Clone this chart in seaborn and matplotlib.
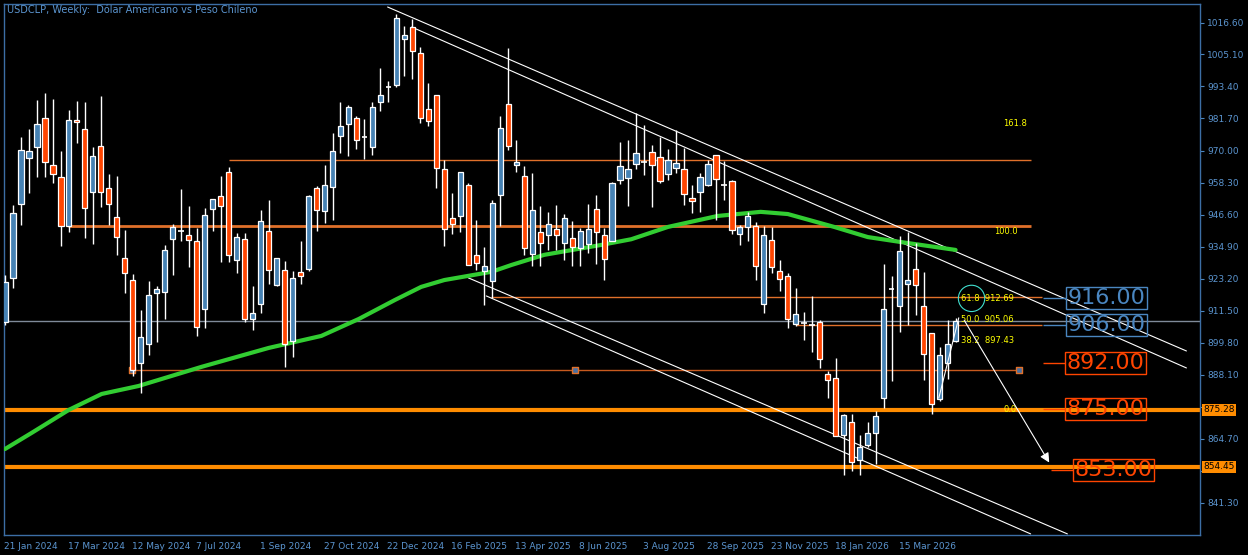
import numpy as np
import pandas as pd
import matplotlib
matplotlib.use("Agg")
import matplotlib.pyplot as plt
import seaborn as sns
from matplotlib.patches import Ellipse

opens = [907.4,923.5,950.5,967.3,971.3,981.9,964.7,960.4,942.5,981.2,977.9,954.9,971.7,956.3,945.8,930.8,922.7,892.4,899.4,918.0,
         918.4,937.7,941.4,939.2,937.0,912.2,948.7,953.4,962.2,930.0,937.7,908.5,914.0,940.6,920.9,926.4,900.5,925.7,926.8,956.3,
         947.9,956.7,975.3,979.7,981.9,975.0,971.3,987.7,992.5,994.0,1010.8,1015.1,1005.6,985.2,990.3,963.3,945.4,946.1,957.4,931.9,
         926.0,922.4,953.8,987.0,964.7,960.7,932.2,940.3,939.2,941.4,936.3,938.1,934.4,935.9,948.7,939.2,937.0,959.3,960.0,965.1,
         965.8,969.5,967.7,961.5,963.6,963.3,952.7,954.9,957.4,968.4,956.7,958.9,939.5,942.1,942.5,914.0,937.4,926.0,924.2,906.7,
         907.8,906.3,907.4,888.4,887.0,866.1,870.9,857.0,862.5,866.9,879.7,919.8,913.2,921.3,926.8,913.2,903.4,879.3,892.4,900.5]
closes = [922.0,947.2,970.2,969.9,979.7,965.8,961.5,942.5,981.2,980.4,949.0,968.0,954.9,950.5,938.4,925.3,889.9,901.9,917.3,919.5,
          933.7,942.1,940.6,937.4,905.6,946.5,952.3,949.8,931.9,938.4,908.5,910.7,944.3,926.4,930.8,899.4,923.5,924.2,953.4,948.3,
          957.4,969.9,979.0,985.9,973.9,975.0,985.9,990.3,993.2,1018.4,1012.2,1006.4,981.9,980.8,963.6,941.4,943.2,962.2,928.2,929.0,
          927.9,950.9,978.3,971.7,965.8,934.4,948.3,936.3,943.2,939.2,945.4,934.8,940.6,941.4,940.3,930.4,958.2,964.4,963.3,969.1,
          965.8,964.7,958.9,966.6,965.5,954.2,951.6,960.4,965.1,959.6,957.4,941.0,942.1,946.1,927.9,939.2,927.5,923.1,908.5,910.3,
          907.0,906.3,893.9,886.2,865.8,873.4,856.3,861.8,866.9,873.1,912.2,919.5,933.3,922.7,920.9,895.7,877.5,895.4,899.4,907.8]
highs = [924.6,950.1,975.0,977.9,988.5,991.0,988.8,969.9,984.8,988.1,987.7,971.3,989.9,961.5,960.7,941.0,924.9,911.8,922.4,920.6,
         935.5,943.2,956.0,949.8,941.7,949.0,952.3,960.7,964.0,939.9,939.9,920.6,948.3,952.0,930.8,929.7,926.0,937.0,953.8,957.1,
         964.7,976.4,987.7,986.7,982.6,981.5,987.7,1000.2,995.4,1019.9,1015.5,1018.1,1007.8,994.7,990.3,966.6,954.5,962.2,958.2,944.7,
         934.8,952.0,982.6,1007.5,973.9,964.4,961.8,949.8,947.6,950.1,946.8,944.3,941.7,950.5,953.8,941.7,958.5,973.1,973.9,983.7,
         979.4,972.0,975.0,970.6,977.5,971.0,957.4,961.8,966.6,968.4,966.2,959.3,942.8,947.6,943.9,942.5,942.1,930.0,925.3,919.8,
         911.1,916.9,908.1,889.5,894.3,873.8,873.8,866.1,870.9,874.9,928.6,924.2,938.8,940.3,936.3,925.7,903.4,898.3,908.1,908.9]
lows = [906.3,919.8,942.8,954.5,960.4,960.4,958.2,935.2,940.3,972.8,938.1,935.9,949.4,942.8,931.9,918.0,887.7,881.5,895.4,900.1,
        908.5,924.6,937.0,927.5,902.3,905.2,940.6,929.3,929.3,925.3,907.4,904.5,910.7,921.3,920.6,891.0,894.6,921.3,926.0,940.6,
        943.6,944.7,969.1,968.0,970.6,966.9,968.4,984.5,987.7,993.2,997.2,996.1,980.1,979.0,956.3,935.2,939.5,940.3,928.2,926.4,
        913.6,916.2,942.5,970.2,962.2,931.9,927.9,927.9,933.7,933.7,930.0,927.9,927.9,932.6,928.6,922.7,937.0,957.8,949.8,963.3,
        961.1,949.4,958.2,959.3,961.8,950.1,947.2,947.6,957.1,944.7,952.0,939.5,935.5,937.0,922.7,910.7,925.3,918.7,905.2,906.0,
        900.8,896.4,890.6,879.7,865.8,851.5,853.0,851.5,861.8,855.5,876.0,885.9,903.8,906.3,910.0,886.2,873.8,878.6,886.6,900.1]

ma_idx = [0, 3.4, 8, 12.1, 16.7, 24.6, 33, 39.6, 44.3, 48.8, 52.1, 55, 60.9, 63.4, 67.5, 74.6, 78.4, 83,
          89.2, 94.6, 98, 103.8, 108, 112.1, 119]
ma_val = [861.0, 867.0, 875.3, 881.1, 884.0, 891.0, 897.9, 902.3, 908.5, 915.4, 920.2, 922.7, 925.7, 928.2, 931.9,
          935.5, 937.6, 942.1, 946.1, 947.6, 946.8, 942.1, 938.4, 936.6, 933.7]

date_labels = ["21 Jan 2024", "17 Mar 2024", "12 May 2024", "7 Jul 2024", "1 Sep 2024", "27 Oct 2024",
               "22 Dec 2024", "16 Feb 2025", "13 Apr 2025", "8 Jun 2025", "3 Aug 2025", "28 Sep 2025",
               "23 Nov 2025", "18 Jan 2026", "15 Mar 2026"]
ytick_vals = [1016.60, 1005.10, 993.40, 981.70, 970.00, 958.30, 946.60, 934.90, 923.20, 911.50, 899.80, 888.10, 876.40, 864.70, 853.00, 841.30]
level_labels = [916.00, 906.00, 892.00, 875.00, 853.00]
level_colors = ["#4a86c0", "#4a86c0", "#ff4500", "#ff4500", "#ff4500"]
fib_levels = ["161.8", "100.0", "61.8", "50.0", "38.2", "0.0"]
fib_prices = [979.7, 940.3, 912.69, 905.06, 897.43, 875.28]
price_now = 907.8
support1 = 875.28
support2 = 854.45

sns.set_style("dark")
plt.rcParams['font.family'] = ['DejaVu Sans']

W, H = 1248, 555
fig = plt.figure(figsize=(W/100, H/100), dpi=100, facecolor="black")
ax = fig.add_axes([4/W, 20/H, 1196/W, 531/H])
ax.set_facecolor("black")
ax.set_xlim(0.125, 149.6)
ax.set_ylim(829.6, 1023.5)

df = pd.DataFrame({"o": opens, "c": closes, "h": highs, "l": lows})
df["i"] = np.arange(len(df))

ax.axhline(price_now, color="#7f8a99", lw=1, zorder=1)
ax.hlines(942.4, 7.9, 128.4, color="#e0702a", lw=2, zorder=1)
ax.hlines(966.7, 28, 128.4, color="#e0702a", lw=1, zorder=1)
ax.hlines(916.5, 60.9, 129.8, color="#e0702a", lw=1, zorder=1)
ax.hlines(906.3, 99, 129.8, color="#e0702a", lw=1, zorder=1)
ax.hlines(889.9, 15.9, 126.9, color="#c85a1e", lw=1, zorder=1)
ax.scatter([15.9, 71.4, 126.9], [889.9]*3, marker="s", s=14, color="#4a6fa0", edgecolors="#e0702a", zorder=2)
ax.axhline(support1, color="#ff8c00", lw=3, zorder=1)
ax.axhline(support2, color="#ff8c00", lw=3, zorder=1)

for (x0, y0, x1, y1) in [(47.9, 1022.4, 147.9, 896.8), (50.9, 1015.1, 147.9, 890.6),
                         (58.0, 923.5, 133.0, 830.0), (60.25, 916.9, 128.4, 830.0)]:
    ax.plot([x0, x1], [y0, y1], color="white", lw=0.8, zorder=2)

sns.lineplot(x=ma_idx, y=ma_val, ax=ax, color="#32cd32", lw=3, zorder=3)

ax.vlines(df["i"], df["l"], df["h"], color="white", lw=1, zorder=4)
for _, r in df.iterrows():
    if abs(r.o - r.c) < 0.8:
        ax.hlines(r.c, r.i - 0.35, r.i + 0.35, color="white", lw=1.2, zorder=5)
        continue
    col = "#4682b4" if r.c > r.o else "#ff4500"
    ax.bar(r.i, abs(r.c - r.o), bottom=min(r.o, r.c), width=0.65, color=col,
           edgecolor="white", linewidth=0.9, zorder=5)

ax.plot([116.9, 119.4], [879.6, 908.9], color="white", lw=0.8, zorder=6)
ax.annotate("", xy=(130.9, 855.2), xytext=(119.9, 908.9),
            arrowprops=dict(arrowstyle="-|>", color="white", lw=0.8, mutation_scale=14), zorder=6)

fy = "#ffff00"
ax.text(124.9, fib_prices[0], fib_levels[0], color=fy, fontsize=6, va="center")
ax.text(123.8, fib_prices[1], fib_levels[1], color=fy, fontsize=6, va="center")
for k in (2, 3, 4):
    ax.text(119.7, fib_prices[k] + 3.2, fib_levels[k] + "  " + f"{fib_prices[k]:.2f}", color=fy, fontsize=6, va="center")
ax.text(125.0, support1 + 0.3, fib_levels[5], color=fy, fontsize=6, va="center")
ax.add_patch(Ellipse((121.0, 916.0), 3.3, 9.6, fill=False, edgecolor="#40e0d0", lw=0.8, zorder=6))

lab_x = [132.8, 132.8, 132.7, 132.7, 133.7]
lab_y = [916.2, 906.3, 892.4, 875.6, 853.3]
for v, c, lx, ly in zip(level_labels, level_colors, lab_x, lab_y):
    ax.hlines(ly, lx - 2.8, lx, color=c, lw=1, zorder=6)
    ax.text(lx + 0.2, ly, f"{v:.2f}", color=c, fontsize=16, va="center", ha="left", zorder=7,
            bbox=dict(boxstyle="square,pad=0.06", fc="none", ec=c, lw=1))

spc = "#3c6ea5"
for s in ax.spines.values():
    s.set_color(spc)
    s.set_linewidth(1)
ax.grid(False)
ax.yaxis.tick_right()
ax.set_yticks(ytick_vals)
ax.set_yticklabels(["" if v in (876.40, 853.00) else f"{v:.2f}" for v in ytick_vals])
ax.tick_params(axis="y", colors="#4a86c0", labelsize=6.5, length=3, pad=2, labelcolor="#5b95d0")
ax.set_xticks(np.arange(0, 8 * len(date_labels), 8) - 0.125)
ax.set_xticklabels(date_labels, ha="left")
ax.tick_params(axis="x", colors=spc, labelsize=6.5, length=4, pad=1, labelcolor="#5b95d0")

for v in (support1, support2):
    ax.text(1.003, v, f"{v:.2f}", transform=ax.get_yaxis_transform(), color="black", fontsize=6.5,
            va="center", ha="left", bbox=dict(boxstyle="square,pad=0.15", fc="#ff8c00", ec="none"), zorder=8,
            clip_on=False)

fig.text(7/W, 1 - 10/H, "USDCLP, Weekly:  Dólar Americano vs Peso Chileno", color="#5b95d0", fontsize=7, va="center")

fig.savefig("out.png", dpi=100, facecolor="black")
